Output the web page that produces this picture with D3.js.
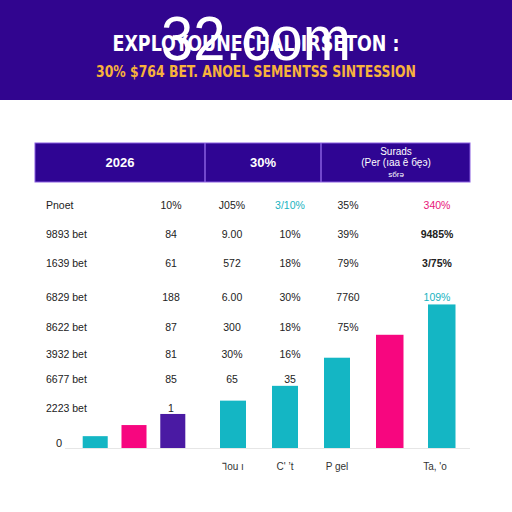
<!DOCTYPE html>
<html><head><meta charset="utf-8">
<script src="https://cdn.jsdelivr.net/npm/d3@7"></script>
<style>html,body{margin:0;padding:0;background:#fff;}svg{display:block;}</style>
</head><body>
<svg id="c" width="512" height="512"></svg>
<script>
const title = "EXPLOYOUNECHAL IRSETON :";
const overlay = "32.com";
const subtitle = "30% $764 BET. ANOEL SEMENTSS SINTESSION";
const headerCells = ["2026", "30%"];
const headerLast = ["Surads", "(Per (ıaa ê бęэ)", "sбrə"];
const rowLabels = ["Pnoet", "9893 bet", "1639 bet", "6829 bet", "8622 bet", "3932 bet", "6677 bet", "2223 bet"];
const col1 = ["10%", "84", "61", "188", "87", "81", "85", "1"];
const col2 = ["J05%", "9.00", "572", "6.00", "300", "30%", "65", ""];
const col3 = ["3/10%", "10%", "18%", "30%", "18%", "16%", "35", ""];
const col4 = ["35%", "39%", "79%", "7760", "75%", "", "", ""];
const col5 = ["340%", "9485%", "3/75%", "109%", "", "", "", ""];
const groupA = ["a1", "a2", "a3"];
const valuesA = [8, 15.5, 23];
const colorsA = ["#14b6c4", "#f7067f", "#4a1aa3"];
const groupB = ["Ꞁou ı", "C' ʼt", "P gel", "", "Ta, 'o"];
const valuesB = [32, 42, 61, 76.5, 97];
const colorsB = ["#14b6c4", "#14b6c4", "#14b6c4", "#f7067f", "#14b6c4"];
const yTicks = [0];

const svg = d3.select("#c");
const purple = "#31058f";
// header band
svg.append("rect").attr("x",0).attr("y",0).attr("width",512).attr("height",100).attr("fill",purple);
svg.append("text").attr("x",256).attr("y",51).attr("text-anchor","middle")
  .attr("font-family","Liberation Sans Narrow, DejaVu Sans Condensed, sans-serif").attr("font-weight","bold")
  .attr("font-size",21).attr("fill","#fff").attr("textLength",287).attr("lengthAdjust","spacingAndGlyphs").text(title);
svg.append("text").attr("x",256).attr("y",60).attr("text-anchor","middle")
  .attr("font-family","Liberation Sans, Arial, sans-serif")
  .attr("font-size",63).attr("fill","#fff").attr("textLength",190).attr("lengthAdjust","spacingAndGlyphs").text(overlay);
svg.append("text").attr("x",256).attr("y",77).attr("text-anchor","middle")
  .attr("font-family","Liberation Sans Narrow, DejaVu Sans Condensed, sans-serif").attr("font-weight","bold")
  .attr("font-size",15).attr("fill","#f7b23c").attr("textLength",320).attr("lengthAdjust","spacingAndGlyphs").text(subtitle);

// table header
const th = svg.append("g");
th.append("rect").attr("x",35).attr("y",143).attr("width",435).attr("height",39).attr("fill","#2f0593").attr("stroke","#8a5fe0").attr("stroke-width",1);
[205,321].forEach(x=>th.append("line").attr("x1",x).attr("x2",x).attr("y1",143).attr("y2",182).attr("stroke","#8a5fe0").attr("stroke-width",1.5));
const hx = [120, 263];
headerCells.forEach((t,i)=>th.append("text").attr("x",hx[i]).attr("y",167).attr("text-anchor","middle")
  .attr("font-family","Liberation Sans, Arial, sans-serif").attr("font-weight","bold").attr("font-size",13).attr("fill","#fff").text(t));
headerLast.forEach((t,i)=>th.append("text").attr("x",396).attr("y",155+i*11).attr("text-anchor","middle")
  .attr("font-family","Liberation Sans, Arial, sans-serif").attr("font-size",i==2?8:10).attr("fill","#fff").text(t));

// table rows
const rowYs = [205,234,263,297,327,354,379,408];
const cols = [col1,col2,col3,col4,col5];
const colX = [171, 232, 290, 348, 437];
const rg = svg.append("g").attr("font-family","Liberation Sans, Arial, sans-serif").attr("font-size",10.5).attr("fill","#222");
rowLabels.forEach((l,i)=>{
  rg.append("text").attr("x",46).attr("y",rowYs[i]+4).text(l);
  cols.forEach((c,j)=>{
    if(!c[i]) return;
    let fill = "#222";
    if(i===0 && j===2) fill="#18b3bf";
    if(i===0 && j===4) fill="#e8157a";
    if(i===3 && j===4) fill="#18b3bf";
    rg.append("text").attr("x",colX[j]).attr("y",rowYs[i]+4).attr("text-anchor","middle").attr("fill",fill)
      .attr("font-weight", (j===4 && (i===1||i===2))?"bold":"normal").text(c[i]);
  });
});

// chart
const y = d3.scaleLinear().domain([0,100]).range([448,300]);
const xA = d3.scaleBand().domain(groupA).range([73,195]).paddingInner(0.355).paddingOuter(0.25);
const xB = d3.scaleBand().domain(groupB.map((d,i)=>i)).range([207,467]).paddingInner(0.5).paddingOuter(0.25);
svg.append("line").attr("x1",65).attr("x2",470).attr("y1",y(0)+0.5).attr("y2",y(0)+0.5).attr("stroke","#e6e6e6");
svg.selectAll(".ba").data(valuesA).join("rect").attr("x",(d,i)=>xA(groupA[i])).attr("width",xA.bandwidth())
  .attr("y",d=>y(d)).attr("height",d=>y(0)-y(d)).attr("fill",(d,i)=>colorsA[i]);
svg.selectAll(".bb").data(valuesB).join("rect").attr("x",(d,i)=>xB(i)).attr("width",(d,i)=>xB.bandwidth()+(i>=3?1.5:0))
  .attr("y",d=>y(d)).attr("height",d=>y(0)-y(d)).attr("fill",(d,i)=>colorsB[i]);
yTicks.forEach(t=>svg.append("text").attr("x",59).attr("y",y(t)-1).attr("text-anchor","middle")
  .attr("font-family","Liberation Sans, Arial, sans-serif").attr("font-size",11).attr("fill","#222").text(t));
groupB.forEach((l,i)=>{ if(!l) return;
  svg.append("text").attr("x",xB(i)+xB.bandwidth()/2+(i===4?-6:0)).attr("y",470).attr("text-anchor","middle")
   .attr("font-family","Liberation Sans, Arial, sans-serif").attr("font-size",10).attr("fill","#333").text(l);});
</script>
</body></html>
